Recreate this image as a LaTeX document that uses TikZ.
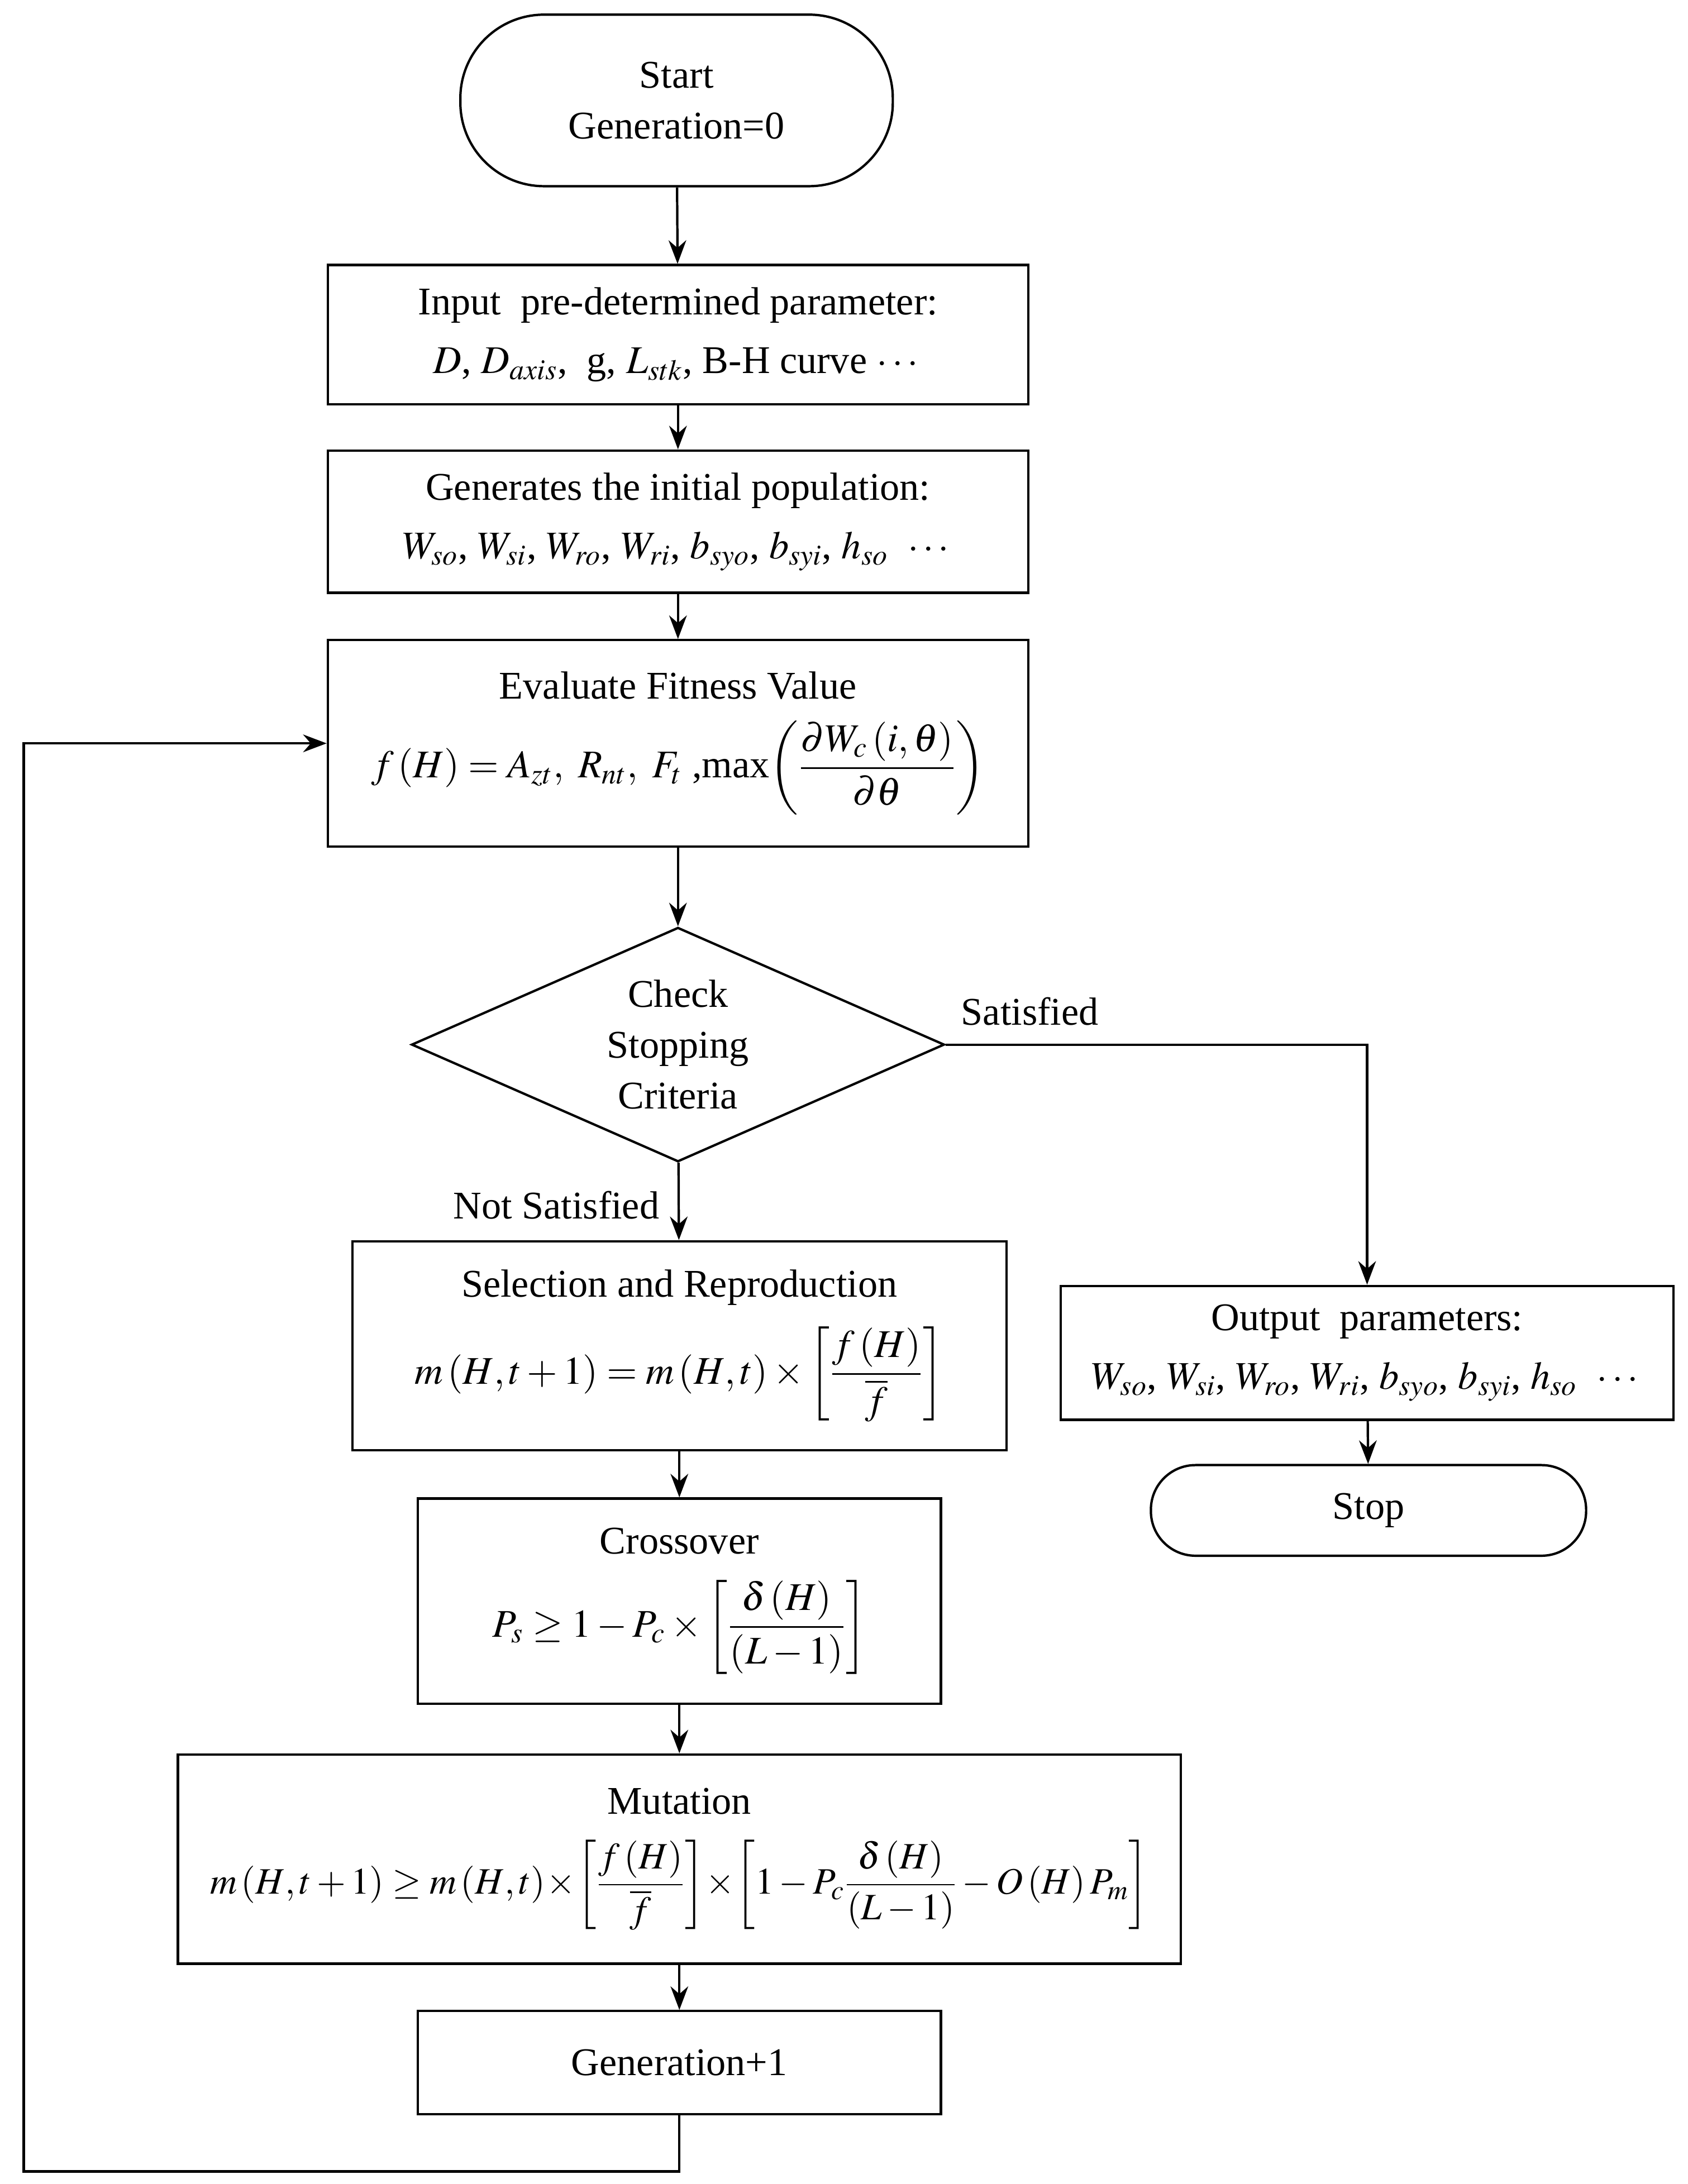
\documentclass[tikz,border=0pt]{standalone}
\usepackage{amsmath}
\usepackage{mathptmx}
\usepackage{fontspec}
\setmainfont{Liberation Serif}
\usetikzlibrary{shapes.geometric,arrows.meta}
\tikzset{
  box/.style={rectangle, draw, line width=1.2pt, align=center, inner sep=0pt},
  term/.style={rectangle, draw, line width=1.2pt, align=center, inner sep=0pt},
  flow/.style={-{Stealth[length=12pt,width=9pt]}, line width=1.2pt},
}
\begin{document}
\begin{tikzpicture}[x=0.025cm, y=-0.025cm, font=\fontsize{20}{26}\selectfont]
        \useasboundingbox (0,0) rectangle (1210,1566);
        % Start
        \node[term, minimum width=310*0.025cm, minimum height=123*0.025cm, rounded corners=60*0.025cm] (start) at (485,72) {Start\\Generation=0};

        % Input and initial population
        \node[box, minimum width=502*0.025cm, minimum height=100*0.025cm] (input) at (486,240) {Input\ \ pre-determined parameter:\\[4pt] $D$, $D_{axis}$,\ \ g, $L_{stk}$, B-H curve $\cdots$};
        \node[box, minimum width=502*0.025cm, minimum height=102*0.025cm] (init) at (486,374) {Generates the initial population:\\[4pt] $W_{so}$, $W_{si}$, $W_{ro}$, $W_{ri}$, $b_{syo}$, $b_{syi}$, $h_{so}$\ \ $\cdots$};

        % Fitness
        \node[box, minimum width=502*0.025cm, minimum height=148*0.025cm] (eval) at (486,533) {Evaluate Fitness Value\\[10pt] $f\left(H\right)=A_{zt},\ R_{nt},\ F_t$ ,max$\left(\dfrac{\partial W_c\left(i,\theta\right)}{\partial\theta}\right)$};

        % Check
        \node[diamond, draw, line width=1.2pt, aspect=2.27, minimum width=382*0.025cm, minimum height=168*0.025cm, inner sep=0pt, align=center] (check) at (486,749) {Check\\Stopping\\Criteria};

        % Genetic operators
        \node[box, minimum width=469*0.025cm, minimum height=150*0.025cm] (select) at (487,965) {Selection and Reproduction\\[10pt] $m\left(H,t+1\right)=m\left(H,t\right)\times\left[\dfrac{f\left(H\right)}{\overline{f}}\right]$};
        \node[box, minimum width=375*0.025cm, minimum height=147*0.025cm] (cross) at (487,1148) {Crossover\\[12pt] $P_s\geq 1-P_c\times\left[\dfrac{\delta\left(H\right)}{\left(L-1\right)}\right]$};
        \node[box, minimum width=719*0.025cm, minimum height=150*0.025cm] (mutate) at (487,1333) {Mutation\\[12pt] {\fontsize{19}{24}\selectfont$m\left(H,t+1\right)\geq m\left(H,t\right)\!\times\!\left[\dfrac{f\left(H\right)}{\overline{f}}\right]\!\times\!\left[1-P_c\dfrac{\delta\left(H\right)}{\left(L-1\right)}-O\left(H\right)P_m\right]$}};
        \node[box, minimum width=375*0.025cm, minimum height=74*0.025cm] (next) at (487,1479) {Generation+1};

        % Output
        \node[box, minimum width=439*0.025cm, minimum height=96*0.025cm] (output) at (980,970) {Output\ \ parameters:\\[4pt] $W_{so}$, $W_{si}$, $W_{ro}$, $W_{ri}$, $b_{syo}$, $b_{syi}$, $h_{so}$\ \ $\cdots$};
        \node[term, minimum width=312*0.025cm, minimum height=65*0.025cm, rounded corners=32*0.025cm] (stop) at (981,1083) {Stop};

        % Connections
        \draw[flow] (start) -- (input);
        \draw[flow] (input) -- (init);
        \draw[flow] (init) -- (eval);
        \draw[flow] (eval) -- (check);
        \draw[flow] (check) -- node[pos=0.55, left=6pt] {Not Satisfied} (select);
        \draw[flow] (select) -- (cross);
        \draw[flow] (cross) -- (mutate);
        \draw[flow] (mutate) -- (next);
        \draw[flow] (check.east) -- node[pos=0.2, above=6pt] {Satisfied} (check.east -| output.north) -- (output.north);
        \draw[flow] (output) -- (stop);
        \coordinate (loopa) at (487,1557);
        \coordinate (loopb) at (17,1557);
        \coordinate (loopc) at (17,533);
        \draw[flow] (next) -- (loopa) -- (loopb) -- (loopc) -- (eval.west);
    \end{tikzpicture}
\end{document}
